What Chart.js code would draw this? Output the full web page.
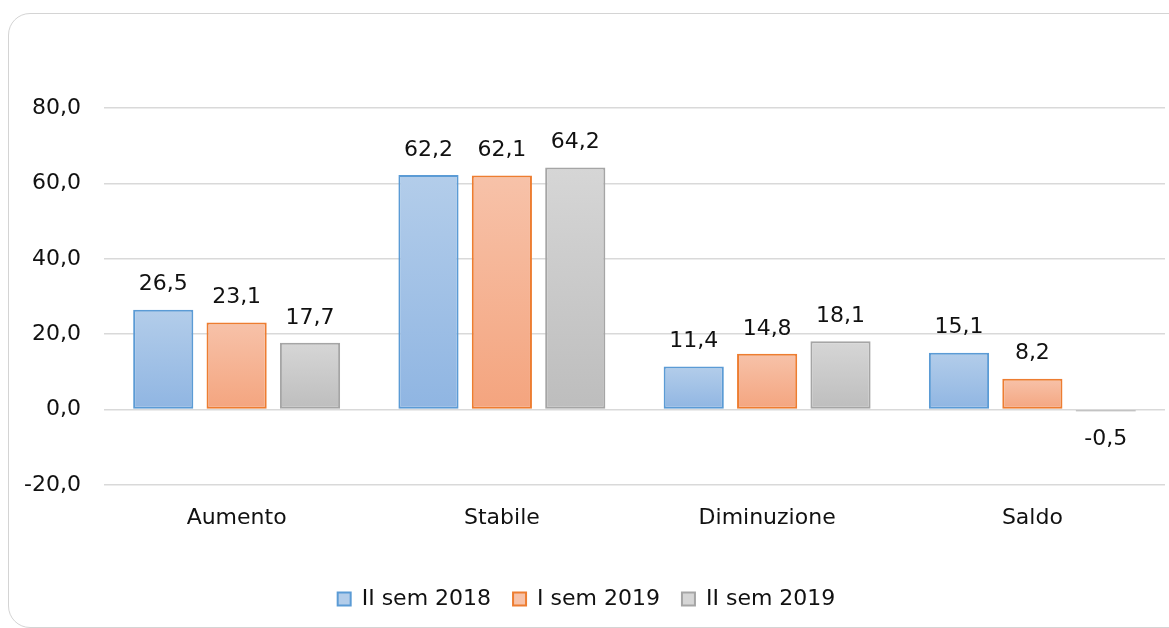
<!DOCTYPE html>
<html>
<head>
<meta charset="utf-8">
<script src="https://cdn.jsdelivr.net/npm/chart.js@4/dist/chart.umd.min.js"></script>
<style>
  html, body { margin: 0; padding: 0; background: #fff; overflow: hidden; }
  #frame {
    position: absolute; left: 8px; top: 13px; width: 1190px; height: 615px;
    border: 1.6px solid #d4d4d4; border-radius: 22px; box-sizing: border-box;
  }
  #wrap { position: absolute; left: 0; top: 0; width: 1169px; height: 628px; }
</style>
</head>
<body>
<div id="frame"></div>
<div id="wrap"><canvas id="chart"></canvas></div>
<script>
// dati
const categories = ['Aumento', 'Stabile', 'Diminuzione', 'Saldo'];
const seriesNames = ['II sem 2018', 'I sem 2019', 'II sem 2019'];
const sem2018II = [26.5, 62.2, 11.4, 15.1];
const sem2019I = [23.1, 62.1, 14.8, 8.2];
const sem2019II = [17.7, 64.2, 18.1, -0.5];
const yTicks = [-20, 0, 20, 40, 60, 80];

// colori: [alto, basso, bordo]
const palette = [
  ['#b3cdea', '#8fb5e2', '#5b9bd5'],
  ['#f7c2a9', '#f4a47e', '#ed7d31'],
  ['#d6d6d6', '#bdbdbd', '#a5a5a5']
];

const fontFamily = '"DejaVu Sans", sans-serif';
const fmt = v => v.toFixed(1).replace('.', ',');

// gradiente per ogni barra, dall'alto verso lo zero
function gradientFor(i) {
  return ctx => {
    if (!ctx.chart.chartArea || ctx.raw === undefined) return palette[i][1];
    const ys = ctx.chart.scales.y;
    const top = ys.getPixelForValue(Math.max(ctx.raw, 0));
    const bottom = ys.getPixelForValue(Math.min(ctx.raw, 0));
    const g = ctx.chart.ctx.createLinearGradient(0, top, 0, bottom + 1);
    g.addColorStop(0, palette[i][0]);
    g.addColorStop(1, palette[i][1]);
    return g;
  };
}

const valueLabels = {
  id: 'valueLabels',
  afterDatasetsDraw(chart) {
    const c = chart.ctx;
    c.save();
    c.font = '22px ' + fontFamily;
    c.fillStyle = '#111';
    c.textAlign = 'center';
    c.textBaseline = 'middle';
    chart.data.datasets.forEach((ds, di) => {
      chart.getDatasetMeta(di).data.forEach((bar, i) => {
        const v = ds.data[i];
        const y = v >= 0 ? bar.y - 25 : bar.y + 28;
        c.fillText(fmt(v), bar.x, y);
      });
    });
    c.restore();
  }
};

const allSeries = [sem2018II, sem2019I, sem2019II];

new Chart(document.getElementById('chart'), {
  type: 'bar',
  data: {
    labels: categories,
    datasets: allSeries.map((d, i) => ({
      label: seriesNames[i],
      data: d,
      backgroundColor: gradientFor(i),
      borderColor: palette[i][2],
      borderWidth: 2,
      borderSkipped: false,
      categoryPercentage: 0.83,
      barPercentage: 0.82
    }))
  },
  options: {
    responsive: true,
    maintainAspectRatio: false,
    animation: false,
    layout: { padding: { left: 8, right: 4, top: 108, bottom: 8 } },
    plugins: {
      tooltip: { enabled: false },
      legend: {
        position: 'bottom',
        labels: {
          font: { family: fontFamily, size: 22 },
          color: '#111',
          boxWidth: 13,
          boxHeight: 13,
          padding: 22,
          generateLabels: chart => chart.data.datasets.map((ds, i) => ({
            text: ds.label,
            fillStyle: palette[i][0],
            strokeStyle: palette[i][2],
            lineWidth: 2,
            fontColor: '#111',
            datasetIndex: i
          }))
        }
      }
    },
    scales: {
      x: {
        grid: { display: false, drawTicks: false },
        border: { display: false },
        ticks: { font: { family: fontFamily, size: 22 }, color: '#111', padding: 20 },
        afterFit: s => { s.height = 81; }
      },
      y: {
        min: -20,
        max: 80,
        afterBuildTicks: s => { s.ticks = yTicks.map(v => ({ value: v })); },
        grid: { color: '#d9d9d9', lineWidth: 1.5, drawTicks: false },
        border: { display: false },
        ticks: {
          font: { family: fontFamily, size: 22 },
          color: '#111',
          padding: 23,
          callback: v => fmt(v)
        },
        afterFit: s => { s.width = 96; }
      }
    }
  },
  plugins: [valueLabels]
});
</script>
</body>
</html>
